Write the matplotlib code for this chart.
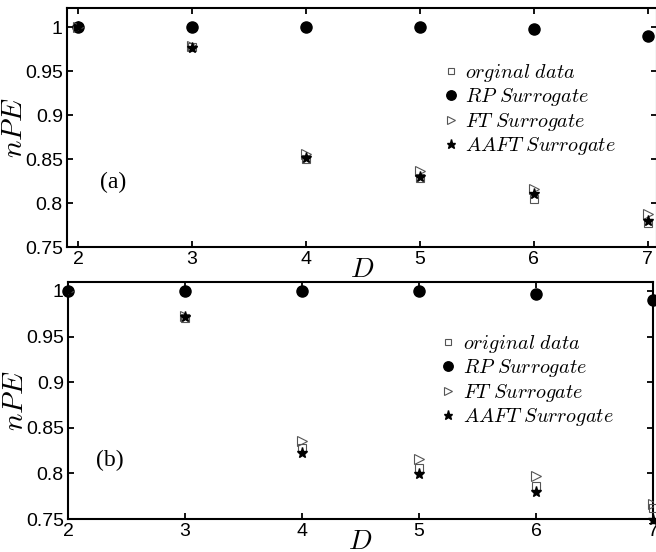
import numpy as np
import matplotlib.pyplot as plt

plt.rcParams['font.family'] = ['Liberation Sans', 'DejaVu Sans']
plt.rcParams['mathtext.fontset'] = 'cm'

D = [2, 3, 4, 5, 6, 7]

# panel (a)
orig_a = [1.0, 0.977, 0.850, 0.828, 0.805, 0.777]
rp_a = [1.0, 1.0, 1.0, 1.0, 0.998, 0.990]
ft_a = [1.0, 0.978, 0.856, 0.836, 0.816, 0.787]
aaft_a = [1.0, 0.976, 0.851, 0.830, 0.810, 0.779]

# panel (b)
orig_b = [1.0, 0.970, 0.828, 0.806, 0.786, 0.762]
rp_b = [1.0, 1.0, 1.0, 1.0, 0.997, 0.990]
ft_b = [1.0, 0.973, 0.836, 0.816, 0.797, 0.766]
aaft_b = [1.0, 0.971, 0.822, 0.799, 0.780, 0.749]

yticks = [0.75, 0.8, 0.85, 0.9, 0.95, 1]
yticklabels = ['0.75', '0.8', '0.85', '0.9', '0.95', '1']

fig = plt.figure(figsize=(6.56, 5.52), dpi=100)
ax1 = fig.add_axes([67/656, 1-247/552, 590/656, 239/552])
ax2 = fig.add_axes([68/656, 1-519/552, 585/656, 237/552])


def draw(ax, orig, rp, ft, aaft, first_label, tag, tag_pos, xlim, ylim, leg_anchor):
    ax.plot(D, orig, ls='none', marker='s', ms=5.5, mfc='none', mec='#555555', mew=0.8,
            label=first_label, clip_on=False, zorder=3)
    ax.plot(D, rp, ls='none', marker='o', ms=8, mfc='black', mec='black',
            label=r'$RP\ Surrogate$', clip_on=False, zorder=3)
    ax.plot(D, ft, ls='none', marker='>', ms=7, mfc='none', mec='#555555', mew=0.8,
            label=r'$FT\ Surrogate$', zorder=3)
    ax.plot(D, aaft, ls='none', marker='*', ms=8, mfc='black', mec='black',
            label=r'$AAFT\ Surrogate$', clip_on=False, zorder=4)
    ax.set_xlim(*xlim)
    ax.set_ylim(*ylim)
    ax.set_xticks(D)
    ax.set_yticks(yticks)
    ax.set_yticklabels(yticklabels)
    ax.tick_params(direction='in', length=4, width=1.3, labelsize=14, pad=3,
                   top=True, right=True)
    for s in ax.spines.values():
        s.set_linewidth(1.5)
    ax.set_ylabel(r'$nPE$', fontsize=21, labelpad=-2)
    ax.set_xlabel(r'$D$', fontsize=20, labelpad=-8)
    ax.text(tag_pos[0], tag_pos[1], tag, fontsize=17, family='Liberation Serif',
            ha='center', va='center')
    leg = ax.legend(loc='upper left', bbox_to_anchor=leg_anchor, frameon=False,
                    fontsize=14.5, handlelength=0.6, handletextpad=0.4,
                    labelspacing=0.12, borderpad=0, borderaxespad=0, markerscale=0.85)


draw(ax1, orig_a, rp_a, ft_a, aaft_a, r'$orginal\ data$', '(a)', (2.31, 0.823),
     (1.904, 7.08), (0.75, 1.0216), (0.64, 0.775))
draw(ax2, orig_b, rp_b, ft_b, aaft_b, r'$original\ data$', '(b)', (2.36, 0.814),
     (2, 7), (0.75, 1.0098), (0.64, 0.785))

fig.savefig('out.png', dpi=100)
